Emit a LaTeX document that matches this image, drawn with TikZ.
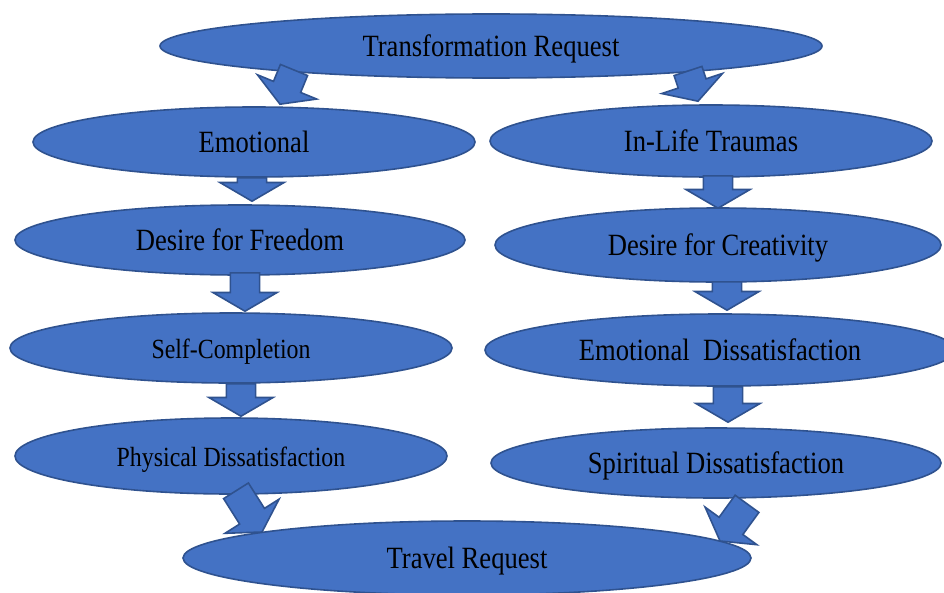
\documentclass[tikz,border=0pt]{standalone}
\usepackage{fontspec}
\setmainfont{Liberation Serif}[FakeStretch=0.86]
\usetikzlibrary{shapes.geometric, calc}

\definecolor{ovalfill}{HTML}{4472C4}
\definecolor{ovalline}{HTML}{2F528F}

% block arrow from shaft start #1 to tip #2
\newcommand{\blockarrow}[2]{%
  \path (#1) coordinate (bs) (#2) coordinate (bt);
  \coordinate (bh) at ($(bt)!14pt!(bs)$);
  \draw[blockarr] ($(bs)!11pt!90:(bt)$) -- ($(bh)!11pt!90:(bt)$)
    -- ($(bh)!24pt!90:(bt)$) -- (bt) -- ($(bh)!24pt!-90:(bt)$)
    -- ($(bh)!11pt!-90:(bt)$) -- ($(bs)!11pt!-90:(bt)$) -- cycle;
}

\begin{document}
\begin{tikzpicture}[x=0.75pt, y=-0.75pt,
  oval/.style={ellipse, draw=ovalline, fill=ovalfill, line width=1.2pt,
    inner sep=0pt, text height=20pt, text depth=4.6pt,
    font=\fontsize{23.2}{28}\selectfont},
  smalltxt/.style={font=\fontsize{20.8}{25}\selectfont},
  blockarr/.style={fill=ovalfill, draw=ovalline, line width=1.2pt,
    line join=miter}]
  \useasboundingbox (0,0) rectangle (944,592);

  \node[oval, minimum width=496.5pt, minimum height=48pt] (tr) at (491,46) {Transformation Request};

  % left column
  \node[oval, minimum width=331.5pt, minimum height=52.5pt] (emo) at (254,142) {Emotional};
  \node[oval, minimum width=337.5pt, minimum height=52.5pt] (freedom) at (240,240) {Desire for Freedom};
  \node[oval, smalltxt, minimum width=331.5pt, minimum height=52.5pt] (selfc) at (231,348) {Self-Completion};
  \node[oval, smalltxt, minimum width=324pt, minimum height=57pt] (phys) at (231,456) {Physical Dissatisfaction};

  % right column
  \node[oval, minimum width=331.5pt, minimum height=54pt] (trauma) at (711,141) {In-Life Traumas};
  \node[oval, minimum width=334.5pt, minimum height=55.5pt] (creat) at (718,245) {Desire for Creativity};
  \node[oval, minimum width=352.5pt, minimum height=54pt] (emodis) at (720,350) {Emotional~~Dissatisfaction};
  \node[oval, minimum width=337.5pt, minimum height=52.5pt] (spirit) at (716,463) {Spiritual Dissatisfaction};

  \node[oval, minimum width=426pt, minimum height=55.5pt] (travel) at (467,558) {Travel Request};

  % block arrows
  \blockarrow{$(tr.center)+(-197,24)$}{$(emo.north)+(26,-2)$}
  \blockarrow{$(tr.center)+(197,25)$}{$(trauma.north)+(-13,-3)$}
  \blockarrow{$(emo.south)+(-2,0)$}{$(freedom.north)+(12,-3)$}
  \blockarrow{$(trauma.south)+(7,-2)$}{$(creat.north)+(0,1)$}
  \blockarrow{$(freedom.south)+(5,-3)$}{$(selfc.north)+(14,-1)$}
  \blockarrow{$(creat.south)+(9,-1)$}{$(emodis.north)+(7,-3)$}
  \blockarrow{$(selfc.south)+(10,0)$}{$(phys.north)+(10,-1)$}
  \blockarrow{$(emodis.south)+(8,0)$}{$(spirit.north)+(12,-5)$}
  \blockarrow{$(phys.south)+(5,-4)$}{$(travel.center)+(-205,-26)$}
  \blockarrow{$(spirit.south)+(31,5)$}{$(travel.center)+(253,-17)$}
\end{tikzpicture}
\end{document}
